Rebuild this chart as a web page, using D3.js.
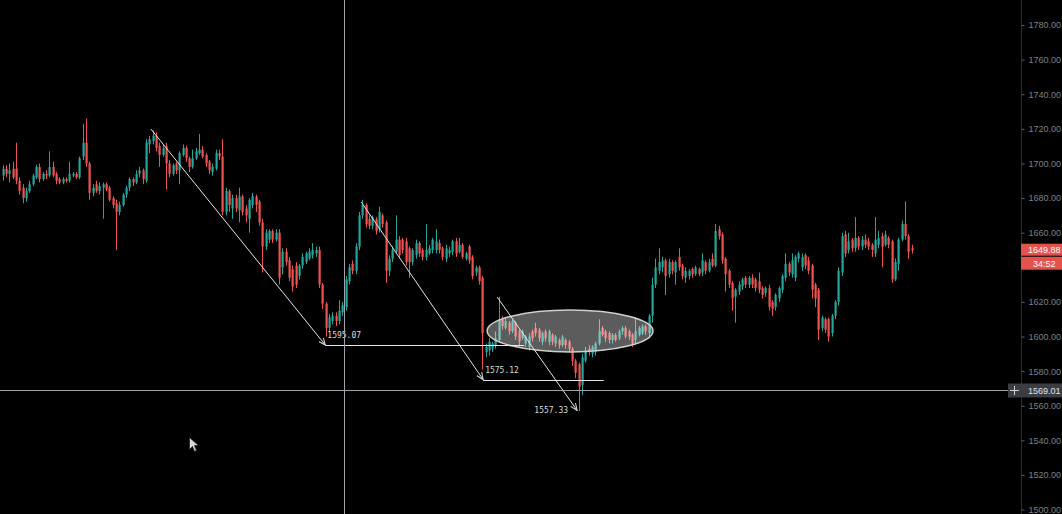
<!DOCTYPE html>
<meta charset="utf-8">
<style>
body { margin: 0; background: #000; overflow: hidden; }
svg { display: block; background: #000; }
.axis-label { font: 9px "Liberation Sans", Arial, sans-serif; fill: #7e818a; }
.note { font: 8px "DejaVu Sans Mono", monospace; fill: #dcdcdc; }
</style>
<svg width="1062" height="514"></svg>
<script src="https://d3js.org/d3.v7.min.js"></script>
<script>
// candle data, one entry per bar (left to right)
var opens = [
  1693,1697,1694,1697,1697,1690,1686,1680,1684,1688,
  1692,1698,1691,1694,1693,1698,1694,1691,1689,1691,
  1690,1693,1694,1692,1704,1712,1700,1683,1688,1684,
  1686,1688,1686,1680,1677,1672,1676,1682,1686,1691,
  1689,1694,1696,1690,1711,1713,1716,1710,1705,1710,
  1700,1694,1700,1696,1705,1709,1703,1698,1703,1706,
  1708,1705,1701,1695,1697,1706,1704,1672,1684,1674,
  1680,1673,1681,1674,1668,1676,1681,1678,1666,1652,
  1656,1661,1656,1660,1640,1649,1644,1639,1641,1635,
  1641,1643,1645,1647,1648,1650,1630,1619,1605,1609,
  1612,1609,1614,1617,1632,1642,1638,1652,1670,1676,
  1668,1664,1668,1662,1670,1666,1638,1645,1649,1656,
  1656,1655,1651,1643,1647,1654,1650,1646,1648,1650,
  1650,1654,1651,1645,1648,1649,1655,1649,1653,1645,
  1652,1646,1637,1640,1634,1591,1592,1593,1595,1598,
  1610,1605,1608,1603,1608,1603,1599,1596,1594,1603,
  1605,1604,1597,1603,1597,1601,1596,1598,1595,1598,
  1597,1593,1586,1584,1572,1586,1593,1590,1591,1596,
  1605,1603,1602,1598,1601,1599,1603,1605,1603,1601,
  1598,1601,1602,1606,1602,1612,1630,1638,1640,1644,
  1636,1643,1637,1646,1641,1634,1635,1639,1636,1639,
  1637,1643,1638,1645,1641,1662,1659,1645,1638,1631,
  1623,1626,1629,1634,1630,1634,1633,1632,1628,1625,
  1628,1620,1617,1622,1627,1634,1642,1636,1634,1645,
  1640,1647,1644,1641,1630,1627,1605,1610,1610,1602,
  1612,1620,1637,1659,1650,1656,1651,1657,1652,1656,
  1655,1653,1648,1653,1658,1653,1657,1655,1633,1642,1656,1665,1658,1651
];
var highs = [
  1699,1699,1700,1701,1712,1692,1688,1686,1690,1694,
  1699,1700,1695,1696,1707,1701,1695,1692,1692,1692,
  1701,1695,1695,1704,1723,1726,1701,1688,1690,1689,
  1689,1689,1687,1681,1679,1678,1683,1687,1692,1692,
  1696,1698,1697,1714,1716,1719,1718,1712,1711,1712,
  1702,1700,1701,1707,1711,1710,1704,1708,1709,1717,
  1710,1706,1702,1700,1708,1708,1714,1686,1685,1682,
  1682,1686,1682,1676,1680,1683,1682,1679,1668,1662,
  1662,1662,1662,1662,1651,1651,1646,1641,1643,1642,
  1648,1649,1651,1654,1652,1652,1631,1620,1613,1614,
  1614,1621,1620,1635,1642,1644,1654,1672,1679,1677,
  1670,1670,1669,1675,1671,1667,1647,1652,1670,1658,
  1657,1657,1652,1651,1656,1655,1651,1665,1653,1657,
  1662,1656,1652,1653,1652,1656,1657,1657,1654,1649,
  1653,1647,1641,1641,1635,1596,1599,1597,1603,1623,
  1612,1611,1609,1610,1609,1604,1604,1601,1602,1604,
  1608,1605,1603,1604,1604,1602,1601,1599,1601,1599,
  1598,1594,1587,1585,1590,1594,1595,1595,1597,1610,
  1606,1604,1603,1602,1602,1604,1606,1606,1604,1602,
  1611,1606,1607,1607,1613,1634,1645,1651,1646,1645,
  1645,1644,1644,1651,1642,1640,1639,1640,1641,1640,
  1648,1644,1645,1648,1665,1664,1660,1646,1639,1632,
  1628,1632,1634,1635,1635,1636,1634,1637,1629,1629,
  1630,1621,1625,1629,1636,1648,1643,1648,1647,1649,
  1648,1648,1646,1642,1631,1628,1612,1611,1611,1613,
  1621,1640,1660,1661,1660,1657,1669,1658,1658,1659,
  1657,1654,1669,1661,1660,1661,1658,1656,1645,1657,1667,1678,1659,1653
];
var lows = [
  1690,1692,1689,1691,1688,1682,1677,1678,1683,1687,
  1691,1689,1690,1691,1692,1692,1688,1688,1688,1689,
  1689,1692,1691,1691,1702,1698,1679,1681,1683,1682,
  1668,1684,1678,1674,1650,1670,1675,1680,1684,1687,
  1688,1692,1688,1689,1706,1711,1707,1698,1704,1685,
  1692,1693,1694,1688,1704,1701,1695,1697,1702,1705,
  1703,1698,1694,1693,1696,1702,1670,1670,1672,1668,
  1672,1666,1670,1666,1660,1674,1672,1664,1637,1650,
  1654,1654,1655,1630,1636,1641,1632,1626,1628,1633,
  1639,1642,1644,1645,1646,1628,1616,1600,1603,1607,
  1606,1607,1612,1615,1630,1636,1636,1650,1668,1663,
  1662,1662,1659,1660,1663,1631,1635,1643,1648,1645,
  1648,1641,1634,1641,1645,1646,1644,1644,1647,1648,
  1648,1648,1644,1643,1646,1647,1646,1648,1645,1644,
  1642,1633,1635,1630,1581,1588,1589,1591,1593,1597,
  1604,1604,1601,1602,1598,1595,1598,1594,1592,1597,
  1600,1597,1595,1597,1595,1595,1594,1593,1594,1593,
  1591,1583,1576,1557,1566,1585,1589,1588,1589,1595,
  1600,1597,1596,1596,1597,1598,1601,1599,1598,1594,
  1596,1600,1601,1601,1600,1608,1628,1636,1637,1624,
  1634,1636,1630,1638,1633,1631,1633,1634,1635,1635,
  1635,1636,1637,1640,1640,1656,1642,1626,1628,1615,
  1608,1624,1627,1628,1628,1628,1626,1625,1622,1623,
  1615,1612,1615,1620,1625,1632,1635,1634,1632,1643,
  1638,1639,1636,1622,1617,1598,1603,1602,1597,1600,
  1610,1618,1635,1646,1648,1649,1649,1650,1650,1651,
  1650,1646,1646,1651,1640,1652,1651,1631,1632,1638,1655,1656,1645,1648
];
var closes = [
  1697,1694,1696,1692,1690,1684,1680,1684,1688,1693,
  1698,1691,1694,1693,1698,1693,1690,1689,1691,1690,
  1694,1694,1692,1703,1712,1700,1683,1686,1684,1687,
  1688,1685,1679,1676,1672,1676,1682,1686,1691,1689,
  1694,1696,1691,1712,1714,1716,1709,1705,1709,1700,
  1694,1699,1696,1706,1709,1703,1698,1703,1707,1708,
  1704,1700,1696,1698,1706,1704,1672,1684,1676,1680,
  1674,1681,1672,1670,1679,1681,1676,1666,1652,1660,
  1661,1656,1660,1634,1649,1643,1634,1629,1630,1641,
  1646,1648,1649,1650,1650,1630,1619,1605,1611,1612,
  1609,1615,1618,1633,1640,1638,1652,1670,1676,1665,
  1664,1669,1661,1672,1665,1638,1645,1650,1656,1647,
  1650,1643,1643,1650,1654,1648,1646,1650,1651,1656,
  1655,1650,1646,1651,1650,1655,1648,1653,1646,1648,
  1644,1635,1640,1632,1602,1594,1597,1596,1599,1610,
  1606,1609,1603,1609,1600,1597,1603,1600,1600,1599,
  1602,1599,1602,1599,1603,1597,1600,1595,1600,1595,
  1593,1586,1579,1571,1588,1592,1591,1594,1596,1603,
  1601,1599,1598,1601,1598,1603,1605,1600,1600,1596,
  1603,1605,1606,1603,1612,1630,1640,1643,1644,1635,
  1643,1638,1643,1640,1635,1638,1638,1636,1640,1636,
  1644,1638,1643,1641,1661,1658,1644,1636,1630,1622,
  1627,1630,1633,1630,1634,1630,1628,1627,1624,1628,
  1617,1616,1624,1628,1635,1642,1637,1644,1646,1648,
  1646,1641,1638,1627,1622,1604,1611,1604,1600,1612,
  1620,1638,1658,1648,1655,1651,1657,1652,1656,1653,
  1652,1650,1656,1657,1652,1659,1653,1633,1643,1656,1665,1658,1649,1649.88
];

// price axis ticks (1640 sits under the countdown tag, so it is not shown)
var tickValues = [1500,1520,1540,1560,1580,1600,1620,1660,1680,1700,1720,1740,1760,1780];
var lastPrice = 1649.88;
var countdown = "34:52";
var crossPrice = 1569.01;
var crossBar = 102.6;

// drawings: [bar, price] endpoints
var trendLines = [
  {from: [44.5, 1719.9], to: [96.9, 1595.07], label: "1595.07", flatTo: 156.6},
  {from: [107.7, 1677.7], to: [144.3, 1575.12], label: "1575.12", flatTo: 180.5},
  {from: [148.5, 1622.8], to: [172.5, 1557.33], label: "1557.33", flatTo: null}
];
var zone = {bar: 170.4, price: 1603.2, bars: 24.9, span: 12.1};

var svg = d3.select("svg"),
    width = +svg.attr("width"),
    height = +svg.attr("height");

var axisX = 1021;
var n = closes.length;

var x = d3.scaleLinear().domain([0, n - 1]).range([2.7, 911.7]);
var y = d3.scaleLinear().domain([1500, 1780]).range([509.6, 25]);

var up = "#26a69a", down = "#ef5350";
function candleColor(i) { return closes[i] >= opens[i] ? up : down; }

var idx = d3.range(n);

//wicks
svg.append("g").selectAll("line")
  .data(idx).enter().append("line")
  .attr("x1", function(i) { return Math.round(x(i)) + 0.5; })
  .attr("x2", function(i) { return Math.round(x(i)) + 0.5; })
  .attr("y1", function(i) { return y(highs[i]); })
  .attr("y2", function(i) { return y(lows[i]); })
  .attr("stroke", candleColor)
  .attr("stroke-width", 1);

//bodies
svg.append("g").selectAll("rect")
  .data(idx).enter().append("rect")
  .attr("x", function(i) { return Math.round(x(i)) - 0.5; })
  .attr("width", 2.2)
  .attr("y", function(i) { return y(Math.max(opens[i], closes[i])); })
  .attr("height", function(i) { return Math.max(1, Math.abs(y(opens[i]) - y(closes[i]))); })
  .attr("fill", candleColor);

// zone ellipse
svg.append("ellipse")
  .attr("cx", x(zone.bar))
  .attr("cy", y(zone.price))
  .attr("rx", x(zone.bars) - x(0))
  .attr("ry", y(zone.price - zone.span) - y(zone.price))
  .attr("fill", "rgba(255,255,255,0.36)")
  .attr("stroke", "#cfcfcf")
  .attr("stroke-width", 1.5);

// arrow marker
svg.append("defs").append("marker")
  .attr("id", "arrow")
  .attr("viewBox", "0 0 8 8")
  .attr("refX", 7).attr("refY", 4)
  .attr("markerWidth", 8).attr("markerHeight", 8)
  .attr("markerUnits", "userSpaceOnUse")
  .attr("orient", "auto")
  .append("path")
  .attr("d", "M0,1 L7,4 L0,7")
  .attr("fill", "none")
  .attr("stroke", "#e0e0e0")
  .attr("stroke-width", 1);

var draw = svg.append("g");
trendLines.forEach(function(t, k) {
  draw.append("line")
    .attr("x1", x(t.from[0])).attr("y1", y(t.from[1]))
    .attr("x2", x(t.to[0])).attr("y2", y(t.to[1]))
    .attr("stroke", "#e6e6e6").attr("stroke-width", 1)
    .attr("marker-end", "url(#arrow)");
  if (t.flatTo != null) {
    draw.append("line")
      .attr("x1", x(t.to[0])).attr("x2", x(t.flatTo))
      .attr("y1", Math.round(y(t.to[1])) + 0.5).attr("y2", Math.round(y(t.to[1])) + 0.5)
      .attr("stroke", "#e6e6e6").attr("stroke-width", 1);
    draw.append("text").attr("class", "note")
      .attr("x", x(t.to[0]) + 2)
      .attr("y", y(t.to[1]) - 7)
      .text(t.label);
  } else {
    draw.append("text").attr("class", "note")
      .attr("x", x(t.to[0]) - 9)
      .attr("y", y(t.to[1]) + 3)
      .attr("text-anchor", "end")
      .text(t.label);
  }
});

// crosshair
var cy = Math.round(y(crossPrice)) + 0.5;
var cx = Math.round(x(crossBar)) + 0.5;
svg.append("line")
  .attr("x1", cx).attr("x2", cx).attr("y1", 0).attr("y2", height)
  .attr("stroke", "#a0a3ab").attr("stroke-width", 1);
svg.append("line")
  .attr("x1", 0).attr("x2", axisX).attr("y1", cy).attr("y2", cy)
  .attr("stroke", "#a0a3ab").attr("stroke-width", 1);

// price axis
svg.append("line")
  .attr("x1", axisX + 0.5).attr("x2", axisX + 0.5).attr("y1", 0).attr("y2", height)
  .attr("stroke", "#2b2d33");
var yAxis = d3.axisRight(y).tickValues(tickValues).tickSize(3).tickPadding(4)
  .tickFormat(d3.format(".2f"));
var ax = svg.append("g")
  .attr("transform", "translate(" + (axisX + 0.5) + ",0)")
  .call(yAxis);
ax.select(".domain").remove();
ax.selectAll("line").attr("stroke", "#5d6068");
ax.selectAll("text").attr("class", "axis-label").attr("fill", null).attr("font-size", null).attr("font-family", null);

// last price tags
var ly = y(lastPrice);
svg.append("rect").attr("x", axisX).attr("y", ly - 6.5).attr("width", width - axisX).attr("height", 12)
  .attr("fill", "#e4524c");
svg.append("text").attr("class", "axis-label").attr("x", axisX + 7).attr("y", ly + 3)
  .style("fill", "#ffffff").text(d3.format(".2f")(lastPrice));
svg.append("rect").attr("x", axisX).attr("y", ly + 6.5).attr("width", width - axisX).attr("height", 13)
  .attr("fill", "#e4524c");
svg.append("text").attr("class", "axis-label").attr("x", axisX + 12).attr("y", ly + 16.5)
  .style("fill", "#ffffff").text(countdown);

// crosshair price tag
svg.append("rect").attr("x", 1008).attr("y", cy - 7).attr("width", width - 1008).attr("height", 14)
  .attr("fill", "#3a3d44");
svg.append("path")
  .attr("d", "M1010," + cy + "H1019M1014.5," + (cy - 4.5) + "V" + (cy + 4.5))
  .attr("stroke", "#cfd1d6").attr("stroke-width", 1);
svg.append("text").attr("class", "axis-label").attr("x", axisX + 7).attr("y", cy + 3.5)
  .style("fill", "#e2e3e6").text(d3.format(".2f")(crossPrice));

// mouse pointer
svg.append("path")
  .attr("d", "M189.5,437.5 L189.5,449.5 L192.5,446.5 L194.5,451.5 L196.5,450.5 L194.5,445.5 L198.5,445.5 Z")
  .attr("fill", "#d8d8d8").attr("stroke", "#222").attr("stroke-width", 0.8);
</script>
